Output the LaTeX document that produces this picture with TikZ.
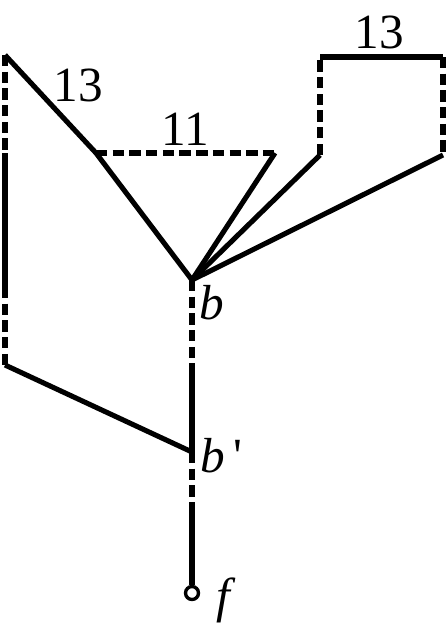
\documentclass[tikz,border=0pt]{standalone}
\usepackage{fontspec}
\setmainfont{Liberation Serif}
\usetikzlibrary{positioning}
\tikzset{
    edge/.style = {
        line width=2.9pt,
        },
    gap edge/.style = {
        edge,
        dash pattern=on 6.5pt off 3pt,
        },
    weight/.style = {
        font=\fontsize{28}{32}\selectfont,
        inner sep=0pt,
        },
    vertex label/.style = {
        font=\fontsize{28}{32}\selectfont\itshape,
        inner sep=0pt,
        anchor=west,
        },
    end node/.style = {
        circle, draw, line width=1.9pt,
        minimum size=0.26cm, inner sep=0pt,
        fill=white,
        },
}
\begin{document}
\begin{tikzpicture}[x=0.02cm, y=-0.02cm]
    \useasboundingbox (0,0) rectangle (448,636);
    % vertices
    \coordinate (b) at (192,280);
    \coordinate (bp) at (192,452);
    \coordinate (k) at (96,153);
    \coordinate (t) at (275,153);
    \coordinate (l1) at (5,55);
    \coordinate (l2) at (5,153);
    \coordinate (l3) at (5,287);
    \coordinate (l4) at (5,365);
    \coordinate (r1) at (320,155);
    \coordinate (r2) at (320,57);
    \coordinate (r3) at (443,57);
    \coordinate (r4) at (443,155);
    \coordinate (m1) at (192,365);
    \coordinate (m2) at (192,512);
    \node [end node] (f) at (192,593) {};

    % left loop
    \draw[edge] (b) -- (k) -- (l1);
    \draw[gap edge] (l1) -- (l2);
    \draw[edge] (l2) -- (l3);
    \draw[gap edge] (l3) -- (l4);
    \draw[edge] (l4) -- (bp);

    % triangle
    \draw[gap edge] (k) -- (t);
    \draw[edge] (t) -- (b);

    % box
    \draw[edge] (b) -- (r1);
    \draw[gap edge] (r1) -- (r2);
    \draw[edge] (r2) -- (r3);
    \draw[gap edge] (r3) -- (r4);
    \draw[edge] (r4) -- (b);

    % stem
    \draw[gap edge] (b) -- (m1);
    \draw[edge] (m1) -- (bp);
    \draw[gap edge] (bp) -- (m2);
    \draw[edge] (m2) -- (f);

    % labels
    \node [weight] (w1) at (78,85) {13};
    \node [weight] (w2) at (185,129) {11};
    \node [weight] (w3) at (379,32) {13};
    \node [vertex label] (lb) at (199,303) {b};
    \node [vertex label] (lbp) at (200,456) {b\,\textup{\textquotesingle}};
    \node [vertex label] (lf) at (216,600) {f};
\end{tikzpicture}
\end{document}
